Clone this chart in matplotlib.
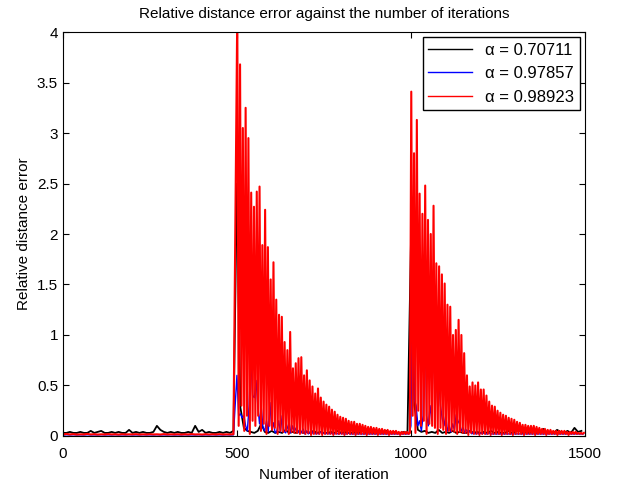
import matplotlib
matplotlib.use("Agg")
import matplotlib.pyplot as plt
import numpy as np

plt.rcParams["font.family"] = ["Liberation Sans", "DejaVu Sans"]

# iteration grids for each part of the run
iters_base = np.arange(0, 500, 10)
iters_black_b1 = np.arange(500, 1000, 10)
iters_black_b2 = np.arange(1000, 1500, 10)
iters_blue_b1 = np.arange(500, 1000, 5)
iters_blue_b2 = np.arange(1000, 1500, 5)
iters_red_b1 = np.arange(501, 1000, 4)
iters_red_b2 = np.arange(1001, 1500, 4)

labels = ["\u03b1 = 0.70711", "\u03b1 = 0.97857", "\u03b1 = 0.98923"]

# before the first change (iterations 0-490)
black_base = [0.03, 0.03, 0.04, 0.03, 0.03, 0.04, 0.03, 0.03, 0.05, 0.03,
              0.04, 0.05, 0.03, 0.03, 0.04, 0.03, 0.04, 0.03, 0.03, 0.06,
              0.03, 0.04, 0.03, 0.04, 0.03, 0.03, 0.04, 0.10, 0.06, 0.04,
              0.03, 0.04, 0.03, 0.04, 0.03, 0.03, 0.04, 0.03, 0.10, 0.04,
              0.06, 0.03, 0.04, 0.03, 0.03, 0.04, 0.03, 0.04, 0.03, 0.05]
blue_base = [0.01, 0.012, 0.01, 0.012, 0.01, 0.011, 0.01, 0.012, 0.01, 0.011,
             0.01, 0.012, 0.01, 0.011, 0.01, 0.012, 0.01, 0.011, 0.01, 0.012,
             0.01, 0.011, 0.01, 0.012, 0.01, 0.011, 0.01, 0.012, 0.01, 0.011,
             0.01, 0.012, 0.01, 0.011, 0.01, 0.012, 0.01, 0.011, 0.01, 0.012,
             0.01, 0.011, 0.01, 0.012, 0.01, 0.011, 0.01, 0.012, 0.01, 0.011]
red_base = [0.015, 0.02, 0.015, 0.018, 0.014, 0.016, 0.015, 0.02, 0.015, 0.017,
            0.014, 0.016, 0.015, 0.018, 0.015, 0.016, 0.014, 0.017, 0.015, 0.016,
            0.015, 0.018, 0.014, 0.016, 0.015, 0.017, 0.015, 0.016, 0.014, 0.018,
            0.015, 0.016, 0.015, 0.017, 0.014, 0.016, 0.015, 0.018, 0.015, 0.016,
            0.014, 0.017, 0.015, 0.016, 0.015, 0.018, 0.014, 0.016, 0.015, 0.017]

# first burst (iterations 500-999)
black_b1 = [2.50, 0.28, 0.08, 0.05, 0.04, 0.03, 0.05, 0.12, 0.04, 0.03,
            0.05, 0.03, 0.04, 0.03, 0.06, 0.03, 0.04, 0.03, 0.05, 0.03,
            0.04, 0.03, 0.05, 0.03, 0.04, 0.03, 0.03, 0.04, 0.03, 0.05,
            0.03, 0.04, 0.03, 0.03, 0.04, 0.03, 0.05, 0.03, 0.04, 0.03,
            0.03, 0.04, 0.03, 0.05, 0.03, 0.04, 0.03, 0.03, 0.04, 0.03]
blue_b1 = [0.60, 0.20, 0.22, 0.18, 0.20, 0.10, 0.05, 0.30, 0.80, 0.40,
           0.38, 0.55, 0.30, 0.12, 0.28, 0.08, 0.05, 0.15, 0.04, 0.33,
           0.06, 0.13, 0.03, 0.05, 0.15, 0.04, 0.20, 0.05, 0.03, 0.08,
           0.13, 0.03, 0.10, 0.04, 0.08, 0.03, 0.06, 0.03, 0.07, 0.02,
           0.05, 0.02, 0.04, 0.02, 0.05, 0.02, 0.03, 0.02, 0.04, 0.02,
           0.03, 0.02, 0.03, 0.02, 0.03, 0.02, 0.02, 0.03, 0.02, 0.02,
           0.03, 0.02, 0.02, 0.02, 0.03, 0.02, 0.02, 0.02, 0.02, 0.02,
           0.02, 0.02, 0.02, 0.02, 0.02, 0.02, 0.02, 0.02, 0.02, 0.02,
           0.02, 0.02, 0.02, 0.02, 0.02, 0.02, 0.02, 0.02, 0.02, 0.02,
           0.02, 0.02, 0.02, 0.02, 0.02, 0.02, 0.02, 0.02, 0.02, 0.02]
red_peaks_b1 = [4.20, 3.68, 3.05, 3.25, 2.95, 2.41, 2.27, 2.42, 2.47, 1.89,
                2.24, 1.87, 1.55, 1.72, 1.35, 1.20, 1.18, 0.93, 0.85, 1.03,
                0.67, 0.72, 0.77, 0.78, 0.60, 0.65, 0.55, 0.49, 0.42, 0.47,
                0.38, 0.34, 0.31, 0.29, 0.26, 0.24, 0.21, 0.19, 0.18, 0.17,
                0.15, 0.14, 0.14, 0.12, 0.12, 0.11, 0.10, 0.09, 0.09, 0.08,
                0.08, 0.07, 0.07, 0.06, 0.06, 0.05, 0.05, 0.05, 0.04, 0.04,
                0.04, 0.04, 0.03]
red_lows_b1 = [0.10, 0.30, 0.05, 0.20, 0.02, 0.15, 0.10, 0.20, 0.05, 0.12,
               0.02, 0.10, 0.06, 0.08, 0.02, 0.05, 0.04, 0.05, 0.02, 0.04,
               0.03, 0.03, 0.02, 0.03, 0.02, 0.03, 0.01, 0.02, 0.02, 0.02,
               0.01, 0.02, 0.02, 0.02, 0.01, 0.02, 0.02, 0.02, 0.01, 0.02,
               0.02, 0.02, 0.01, 0.02, 0.02, 0.02, 0.01, 0.02, 0.02, 0.02,
               0.01, 0.02, 0.02, 0.02, 0.01, 0.02, 0.02, 0.02, 0.01, 0.02,
               0.02, 0.02]

# second burst (iterations 1000-1499)
black_b2 = [1.90, 0.30, 0.06, 0.04, 0.05, 0.03, 0.04, 0.03, 0.06, 0.03,
            0.04, 0.03, 0.05, 0.03, 0.04, 0.03, 0.03, 0.05, 0.03, 0.04,
            0.03, 0.04, 0.03, 0.05, 0.03, 0.04, 0.03, 0.03, 0.05, 0.03,
            0.04, 0.06, 0.03, 0.04, 0.03, 0.05, 0.03, 0.04, 0.07, 0.03,
            0.04, 0.03, 0.06, 0.04, 0.03, 0.05, 0.03, 0.08, 0.04, 0.05]
blue_b2 = [0.10, 1.63, 0.36, 0.30, 0.10, 0.15, 0.05, 0.20, 1.60, 0.20,
           0.10, 0.30, 0.15, 1.20, 0.30, 0.73, 0.58, 0.30, 0.17, 0.10,
           0.20, 0.05, 0.10, 0.04, 0.12, 0.06, 0.21, 0.15, 0.12, 0.05,
           0.08, 0.03, 0.06, 0.03, 0.05, 0.02, 0.04, 0.02, 0.03, 0.02,
           0.03, 0.02, 0.03, 0.02, 0.02, 0.03, 0.02, 0.02, 0.02, 0.02,
           0.02, 0.02, 0.02, 0.02, 0.02, 0.02, 0.02, 0.02, 0.02, 0.02,
           0.02, 0.02, 0.02, 0.02, 0.02, 0.02, 0.02, 0.02, 0.02, 0.02,
           0.02, 0.02, 0.02, 0.02, 0.02, 0.02, 0.02, 0.02, 0.02, 0.02,
           0.02, 0.02, 0.02, 0.02, 0.02, 0.02, 0.02, 0.02, 0.02, 0.02,
           0.02, 0.02, 0.02, 0.02, 0.02, 0.02, 0.02, 0.02, 0.02, 0.02]
red_peaks_b2 = [3.41, 2.80, 3.13, 2.40, 2.20, 2.48, 2.14, 2.00, 2.28, 1.71,
                1.68, 1.60, 1.51, 1.30, 1.28, 1.00, 1.05, 1.15, 1.00, 0.82,
                0.60, 0.49, 0.53, 0.50, 0.53, 0.46, 0.46, 0.40, 0.34, 0.30,
                0.29, 0.25, 0.23, 0.21, 0.20, 0.18, 0.17, 0.16, 0.14, 0.13,
                0.11, 0.11, 0.10, 0.10, 0.10, 0.09, 0.08, 0.07, 0.07, 0.06,
                0.06, 0.05, 0.05, 0.05, 0.05, 0.05, 0.04, 0.04, 0.04, 0.04,
                0.03, 0.03, 0.03]
red_lows_b2 = [0.20, 0.03, 0.25, 0.10, 0.15, 0.02, 0.12, 0.10, 0.08, 0.02,
               0.08, 0.06, 0.02, 0.05, 0.05, 0.04, 0.02, 0.04, 0.03, 0.03,
               0.01, 0.03, 0.02, 0.02, 0.01, 0.02, 0.02, 0.02, 0.01, 0.02,
               0.02, 0.02, 0.01, 0.02, 0.02, 0.02, 0.01, 0.02, 0.02, 0.02,
               0.01, 0.02, 0.02, 0.02, 0.01, 0.02, 0.02, 0.02, 0.01, 0.02,
               0.02, 0.02, 0.01, 0.02, 0.02, 0.02, 0.01, 0.02, 0.02, 0.02,
               0.02, 0.02]


def interleave(peaks, lows):
    out = []
    for i, p in enumerate(peaks):
        out.append(p)
        if i < len(lows):
            out.append(lows[i])
    return out


black_x = np.concatenate([iters_base, iters_black_b1, iters_black_b2])
black_y = np.concatenate([black_base, black_b1, black_b2])
blue_x = np.concatenate([iters_base, iters_blue_b1, iters_blue_b2])
blue_y = np.concatenate([blue_base, blue_b1, blue_b2])
red_x = np.concatenate([iters_base, iters_red_b1, iters_red_b2])
red_y = np.concatenate([red_base, interleave(red_peaks_b1, red_lows_b1),
                        interleave(red_peaks_b2, red_lows_b2)])

fig = plt.figure(figsize=(6.17, 4.86), dpi=100)
ax = fig.add_axes([0.102, 0.103, 0.846, 0.831])

ax.plot(black_x, black_y, color="black", linewidth=1.3, label=labels[0])
ax.plot(blue_x, blue_y, color="blue", linewidth=1.0, label=labels[1])
ax.plot(red_x, red_y, color="red", linewidth=1.5, label=labels[2])

ax.set_xlim(0, 1500)
ax.set_ylim(0, 4)
ax.set_xticks([0, 500, 1000, 1500])
ax.set_yticks(np.arange(0, 4.01, 0.5))
ax.set_yticklabels(["0", "0.5", "1", "1.5", "2", "2.5", "3", "3.5", "4"])
ax.tick_params(direction="in", top=True, right=True, labelsize=11, length=4)
ax.tick_params(axis="x", pad=8)

ax.set_title("Relative distance error against the number of iterations",
             fontsize=11, pad=10)
ax.set_xlabel("Number of iteration", fontsize=11, labelpad=5)
ax.set_ylabel("Relative distance error", fontsize=11, labelpad=4)

leg = ax.legend(loc="upper right", fontsize=12, fancybox=False,
                framealpha=1, edgecolor="black", handlelength=2.6,
                borderaxespad=0.3, labelspacing=0.5, borderpad=0.35)
leg.get_frame().set_linewidth(1.0)
for line in leg.get_lines():
    line.set_linewidth(1.0)

fig.savefig("out.png", dpi=100)
